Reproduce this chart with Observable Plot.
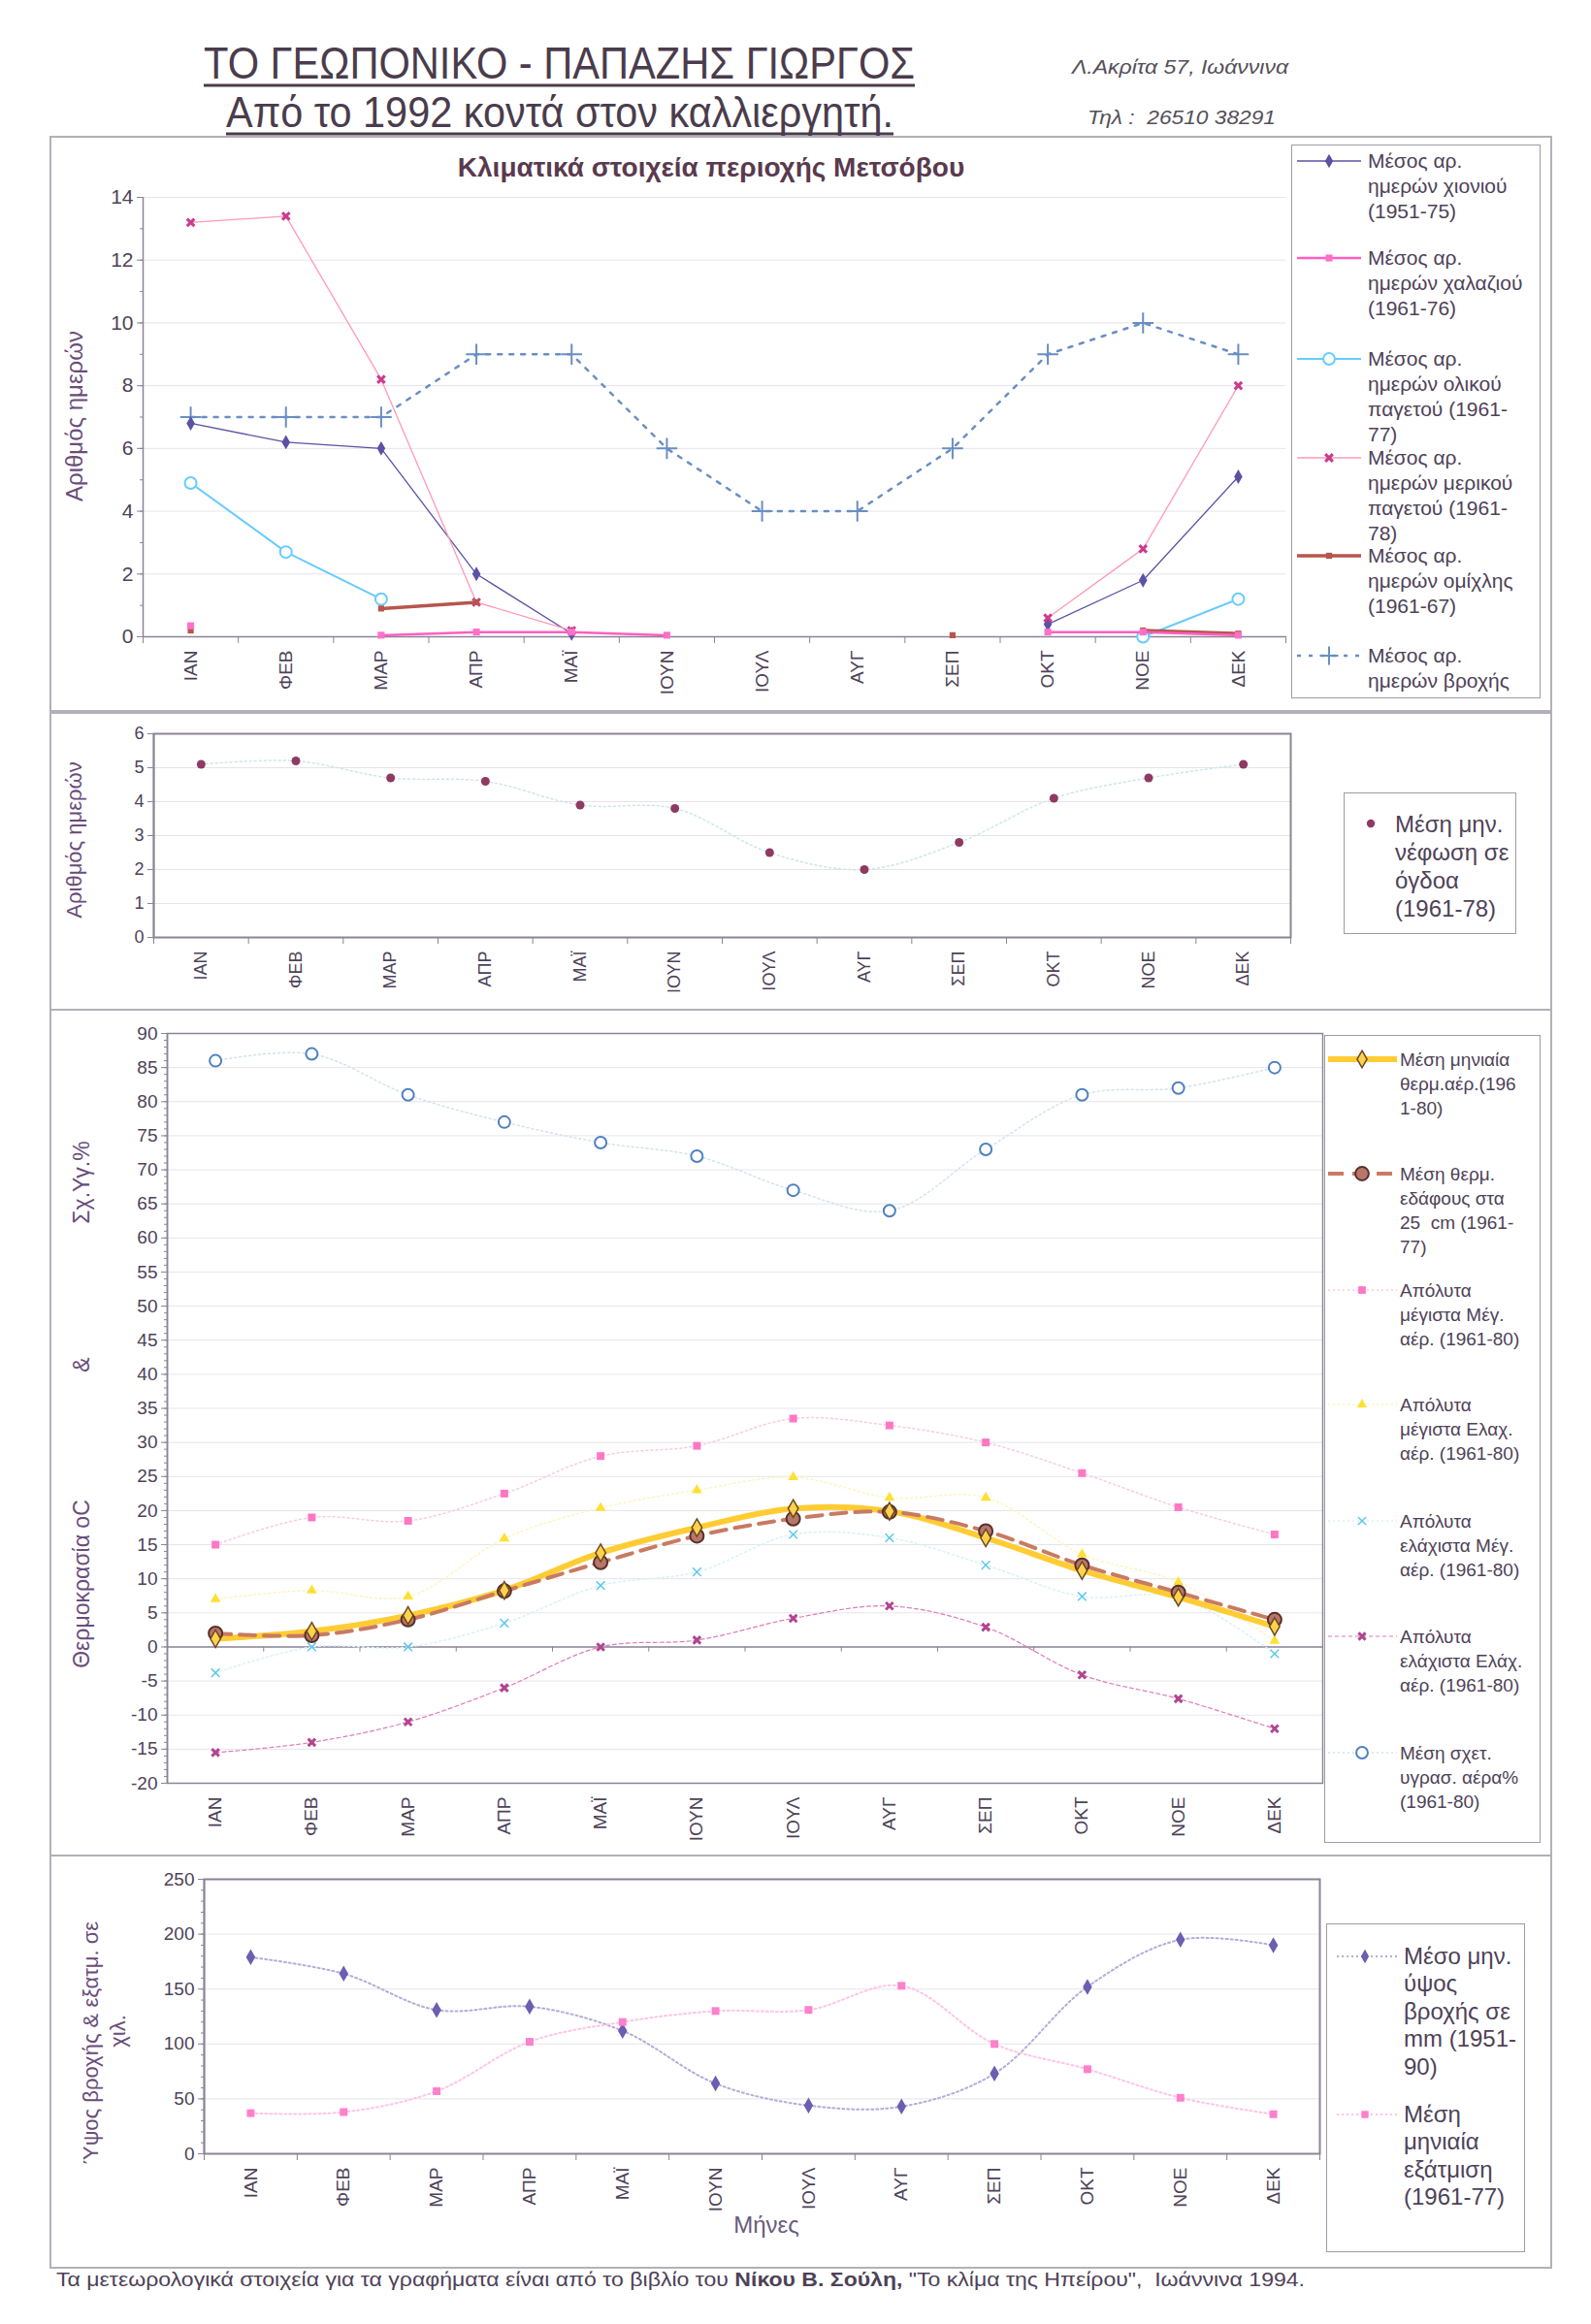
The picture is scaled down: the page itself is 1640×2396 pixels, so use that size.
<!DOCTYPE html>
<html><head><meta charset="utf-8">
<script src="https://cdn.jsdelivr.net/npm/d3@7"></script>
<script src="https://cdn.jsdelivr.net/npm/@observablehq/plot@0.6"></script>
<style>
body{margin:0;background:#fff;}
#page{position:relative;width:1640px;height:2396px;background:#fff;font-family:"Liberation Sans",Arial,sans-serif;color:#4e4258;overflow:hidden;}
.abs{position:absolute;white-space:nowrap;}
.panel{position:absolute;border:2px solid #b4b0b8;box-sizing:border-box;}
.legend{position:absolute;border:1.5px solid #a09aa6;box-sizing:border-box;background:#fff;}
.rot{position:absolute;white-space:nowrap;transform:translate(-50%,-50%) rotate(-90deg);color:#6a4d7a;}
</style></head><body><div id="page"></div>
<script>
// ---------- data ----------
const months = ["ΙΑΝ","ΦΕΒ","ΜΑΡ","ΑΠΡ","ΜΑΪ","ΙΟΥΝ","ΙΟΥΛ","ΑΥΓ","ΣΕΠ","ΟΚΤ","ΝΟΕ","ΔΕΚ"];

// Panel 1: days
const snowDays         = [6.8, 6.2, 6.0, 2.0, 0.1, null, null, null, null, 0.4, 1.8, 5.1];
const hailDays         = [0.35, null, 0.05, 0.15, 0.15, 0.05, null, null, null, 0.15, 0.15, 0.05];
const totalFrostDays   = [4.9, 2.7, 1.2, null, null, null, null, null, null, null, 0.0, 1.2];
const partialFrostDays = [13.2, 13.4, 8.2, 1.1, 0.2, null, null, null, null, 0.6, 2.8, 8.0];
const fogDays          = [0.2, null, 0.9, 1.1, null, null, null, null, 0.05, null, 0.2, 0.1];
const rainDays         = [7, 7, 7, 9, 9, 6, 4, 4, 6, 9, 10, 9];
const daysTicks = [0, 2, 4, 6, 8, 10, 12, 14];

// Panel 2: cloud cover (oktas)
const cloudCover = [5.1, 5.2, 4.7, 4.6, 3.9, 3.8, 2.5, 2.0, 2.8, 4.1, 4.7, 5.1];
const cloudTicks = [0, 1, 2, 3, 4, 5, 6];

// Panel 3: temperature & humidity
const humidity    = [86, 87, 81, 77, 74, 72, 67, 64, 73, 81, 82, 85];
const meanAirTemp = [1.2, 2.3, 4.6, 8.3, 13.8, 17.5, 20.3, 19.9, 16.0, 11.2, 7.3, 3.0];
const soilTemp25  = [2.0, 1.7, 4.0, 8.2, 12.4, 16.3, 18.8, 19.8, 17.0, 12.0, 8.0, 4.0];
const absMaxOfMax = [15, 19, 18.5, 22.5, 28, 29.5, 33.5, 32.5, 30, 25.5, 20.5, 16.5];
const absMaxOfMin = [7, 8.3, 7.4, 15.9, 20.4, 23, 24.9, 21.9, 21.9, 13.6, 9.5, 0.9];
const absMinOfMax = [-3.8, 0, 0, 3.5, 9, 11, 16.5, 16, 12, 7.4, 7.3, -1];
const absMinOfMin = [-15.5, -14, -11, -6, 0, 1, 4.2, 6, 2.9, -4.1, -7.6, -12];
const tempTicks = [-20,-15,-10,-5,0,5,10,15,20,25,30,35,40,45,50,55,60,65,70,75,80,85,90];

// Panel 4: rainfall & evaporation (mm)
const rainHeight  = [179, 164, 131, 134, 112, 64, 44, 43, 73, 152, 195, 190];
const evaporation = [37, 38, 57, 102, 120, 130, 131, 153, 100, 77, 51, 36];
const rainTicks = [0, 50, 100, 150, 200, 250];

// ---------- helpers ----------
const page = document.getElementById("page");
function el(tag, cls, css, html) {
  const e = document.createElement(tag);
  if (cls) e.className = cls;
  Object.assign(e.style, css || {});
  if (html != null) e.innerHTML = html;
  page.appendChild(e);
  return e;
}
const overlay = d3.select(page).append("svg")
  .style("position", "absolute").style("left", "0px").style("top", "0px")
  .attr("width", 1640).attr("height", 2396).style("overflow", "visible").style("z-index", 5).style("pointer-events", "none");

function svgText(x, y, len, size, html, opt = {}) {
  const t = overlay.append("text").attr("x", x).attr("y", y)
    .attr("font-family", "Liberation Sans, Arial, sans-serif").attr("font-size", size)
    .attr("fill", opt.fill || "#4a3c4c").attr("textLength", len).attr("lengthAdjust", "spacingAndGlyphs")
    .attr("font-style", opt.italic ? "italic" : null).html(html);
  if (opt.underline) {
    overlay.append("line").attr("x1", x).attr("x2", x + len).attr("y1", opt.underline).attr("y2", opt.underline)
      .attr("stroke", opt.fill || "#4a3c4c").attr("stroke-width", opt.uw || 3);
  }
  return t;
}

const AX = "#8c8496";
const idx = d3.range(12);
const bounds = d3.range(13).map(i => i - 0.5);
const X = (d, i) => i;
const Y = d => d;

function chart(o) {
  const svg = Plot.plot({
    width: o.W, height: o.H,
    marginLeft: o.pl - o.L, marginRight: o.L + o.W - o.pr,
    marginTop: o.pt - o.T, marginBottom: o.T + o.H - o.pb,
    x: {type: "linear", domain: [-0.5, 11.5], axis: null},
    y: {type: "linear", domain: o.yDomain, axis: null},
    style: {fontFamily: "Liberation Sans, Arial, sans-serif", color: "#4e4258", background: "transparent", overflow: "visible", fontSize: o.tickFont + "px"},
    marks: [
      Plot.gridY({ticks: o.yTicks, stroke: "#e6e4ea", strokeOpacity: 1}),
      ...(o.frame ? [Plot.frame({stroke: AX, strokeWidth: o.frame})] : []),
      Plot.ruleX([-0.5], {stroke: AX, strokeWidth: 1.5}),
      ...(o.zeroLine ? [Plot.ruleY([0], {stroke: AX, strokeWidth: 1.5}),
                        Plot.ruleX(bounds, {x: d => d, y1: 0, y2: o.zeroTick, stroke: AX})] : []),
      ...o.marks,
      Plot.axisY({ticks: o.yTicks, tickSize: 6, tickPadding: 4, stroke: AX, fontSize: o.tickFont, tickFormat: d => String(d)}),
      Plot.axisY({ticks: o.yMinor, tickSize: 3, tickFormat: () => "", stroke: AX}),
      ...(o.bottomTicks ? [Plot.axisX({ticks: bounds, tickSize: 7, tickFormat: () => "", stroke: AX})] : []),
      Plot.axisX({ticks: idx, tickSize: 0, tickRotate: -90, tickPadding: o.monthPad, tickFormat: i => months[i], fontSize: o.monthFont})
    ]
  });
  const wrap = el("div", "", {position: "absolute", left: o.L + "px", top: o.T + "px"});
  wrap.appendChild(svg);
  return svg;
}

function legend(box, items, opt) {
  el("div", "legend", {left: box[0] + "px", top: box[1] + "px", width: (box[2] - box[0]) + "px", height: (box[3] - box[1]) + "px"});
  for (const it of items) {
    if (it.line) {
      overlay.append("line").attr("x1", opt.x0).attr("x2", opt.x1).attr("y1", it.y).attr("y2", it.y)
        .attr("stroke", it.line).attr("stroke-width", it.lw || 1.5).attr("stroke-dasharray", it.dash || null);
    }
    if (it.sym) {
      overlay.append("path").attr("transform", `translate(${opt.xm},${it.y})`)
        .attr("d", d3.symbol(it.sym, it.size || 60)())
        .attr("fill", it.fill || "none").attr("stroke", it.stroke || "none").attr("stroke-width", it.sw || 1.5);
    }
    el("div", "abs", {left: opt.tx + "px", top: (it.y - opt.lh / 2) + "px", lineHeight: opt.lh + "px", fontSize: opt.fs + "px", color: opt.color || "#4e4258"}, it.lines.join("<br>"));
  }
}

// ---------- header ----------
svgText(210, 81, 733, 47, "ΤΟ ΓΕΩΠΟΝΙΚΟ - ΠΑΠΑΖΗΣ ΓΙΩΡΓΟΣ", {underline: 88});
svgText(233, 131, 688, 44, "Από το 1992 κοντά στον καλλιεργητή.", {underline: 138});
svgText(1105, 76, 223, 21, "Λ.Ακρίτα 57, Ιωάννινα", {italic: true, fill: "#55505a"});
svgText(1121, 128, 194, 21, "Τηλ :&#160; 26510 38291", {italic: true, fill: "#55505a"});

// ---------- panels ----------
el("div", "panel", {left: "51px", top: "140px", width: "1549px", height: "594px"});
el("div", "panel", {left: "51px", top: "734px", width: "1549px", height: "308px"});
el("div", "panel", {left: "51px", top: "1040px", width: "1549px", height: "874px"});
el("div", "panel", {left: "51px", top: "1912px", width: "1549px", height: "427px"});

// ---------- Panel 1 ----------
el("div", "abs", {left: "733px", top: "173px", transform: "translate(-50%,-50%)", fontSize: "28px", fontWeight: "bold", color: "#5a3a4e"}, "Κλιματικά στοιχεία περιοχής Μετσόβου");
el("div", "rot", {left: "77px", top: "429px", fontSize: "24px"}, "Αριθμός ημερών");
chart({
  L: 55, T: 145, W: 1280, H: 580, pl: 147, pr: 1325, pt: 203, pb: 656,
  yDomain: [0, 14], yTicks: daysTicks, yMinor: d3.range(0, 14.5, 1),
  tickFont: 21, monthFont: 19, monthPad: 14, bottomTicks: true,
  marks: [
    Plot.ruleY([0], {stroke: AX, strokeWidth: 1.5}),
    Plot.line(rainDays, {x: X, y: Y, stroke: "#6a8ec4", strokeWidth: 2.5, strokeDasharray: "4,8"}),
    Plot.dot(rainDays, {x: X, y: Y, symbol: "plus", stroke: "#6a8ec4", strokeWidth: 2, r: 7}),
    Plot.line(totalFrostDays, {x: X, y: Y, stroke: "#66ccff", strokeWidth: 2}),
    Plot.dot(totalFrostDays, {x: X, y: Y, symbol: "circle", stroke: "#66ccff", fill: "white", strokeWidth: 2, r: 6}),
    Plot.line(snowDays, {x: X, y: Y, stroke: "#5a52a4", strokeWidth: 1.3}),
    Plot.dot(snowDays, {x: X, y: Y, symbol: "diamond", fill: "#5a52a4", r: 4.5}),
    Plot.line(partialFrostDays, {x: X, y: Y, stroke: "#ff9ab4", strokeWidth: 1.3}),
    Plot.dot(partialFrostDays, {x: X, y: Y, symbol: "times", stroke: "#cc3a8c", strokeWidth: 3, r: 3.5}),
    Plot.line(fogDays, {x: X, y: Y, stroke: "#b5564c", strokeWidth: 3.5}),
    Plot.dot(fogDays, {x: X, y: Y, symbol: "square", fill: "#b5564c", r: 3.5}),
    Plot.line(hailDays, {x: X, y: Y, stroke: "#ff5fc0", strokeWidth: 2.5}),
    Plot.dot(hailDays, {x: X, y: Y, symbol: "square", fill: "#ff6fc8", r: 4})
  ]
});
legend([1331, 149, 1588, 720], [
  {y: 166, line: "#5a52a4", sym: d3.symbolDiamond, fill: "#5a52a4", size: 60, lines: ["Μέσος αρ.", "ημερών χιονιού", "(1951-75)"]},
  {y: 266, line: "#ff5fc0", lw: 2.5, sym: d3.symbolSquare, fill: "#ff6fc8", size: 50, lines: ["Μέσος αρ.", "ημερών χαλαζιού", "(1961-76)"]},
  {y: 370, line: "#66ccff", lw: 2, sym: d3.symbolCircle, fill: "white", stroke: "#66ccff", sw: 2, size: 110, lines: ["Μέσος αρ.", "ημερών ολικού", "παγετού (1961-", "77)"]},
  {y: 472, line: "#ff9ab4", sym: d3.symbolTimes, stroke: "#cc3a8c", sw: 3, size: 40, lines: ["Μέσος αρ.", "ημερών μερικού", "παγετού (1961-", "78)"]},
  {y: 573, line: "#b5564c", lw: 3.5, sym: d3.symbolSquare, fill: "#b5564c", size: 40, lines: ["Μέσος αρ.", "ημερών ομίχλης", "(1961-67)"]},
  {y: 676, line: "#6a8ec4", lw: 2.5, dash: "4,8", sym: d3.symbolPlus, stroke: "#6a8ec4", sw: 2, size: 120, lines: ["Μέσος αρ.", "ημερών βροχής"]}
], {x0: 1337, x1: 1403, xm: 1370, tx: 1410, lh: 26, fs: 21});

// ---------- Panel 2 ----------
el("div", "rot", {left: "77px", top: "866px", fontSize: "22px"}, "Αριθμός ημερών");
chart({
  L: 55, T: 740, W: 1290, H: 295, pl: 158, pr: 1330, pt: 756, pb: 966,
  yDomain: [0, 6], yTicks: cloudTicks, yMinor: cloudTicks,
  tickFont: 18, monthFont: 18, monthPad: 14, bottomTicks: true, frame: 2,
  marks: [
    Plot.line(cloudCover, {x: X, y: Y, stroke: "#cfe6e6", strokeWidth: 1.5, strokeDasharray: "2,3", curve: "catmull-rom"}),
    Plot.dot(cloudCover, {x: X, y: Y, symbol: "circle", fill: "#8e3a62", r: 4.5})
  ]
});
legend([1385, 817, 1563, 963], [
  {y: 849, sym: d3.symbolCircle, fill: "#8e3a62", size: 55, lines: ["Μέση μην.", "νέφωση σε", "όγδοα", "(1961-78)"]}
], {x0: 1400, x1: 1400, xm: 1413, tx: 1438, lh: 29, fs: 24});

// ---------- Panel 3 ----------
el("div", "rot", {left: "84px", top: "1219px", fontSize: "23px"}, "Σχ.Υγ.%");
el("div", "rot", {left: "84px", top: "1407px", fontSize: "23px"}, "&amp;");
el("div", "rot", {left: "84px", top: "1633px", fontSize: "23px"}, "Θερμοκρασία οC");
chart({
  L: 55, T: 1048, W: 1320, H: 860, pl: 172, pr: 1363, pt: 1065, pb: 1838,
  yDomain: [-20, 90], yTicks: tempTicks, yMinor: d3.range(-20, 90.5, 1),
  tickFont: 19, monthFont: 19, monthPad: 14, bottomTicks: false, frame: 1.5,
  zeroLine: true, zeroTick: -0.75,
  marks: [
    Plot.line(humidity, {x: X, y: Y, stroke: "#d4e2ef", strokeWidth: 1.5, strokeDasharray: "2,3", curve: "catmull-rom"}),
    Plot.dot(humidity, {x: X, y: Y, symbol: "circle", stroke: "#4f81bd", fill: "white", strokeWidth: 2, r: 6}),
    Plot.line(absMaxOfMax, {x: X, y: Y, stroke: "#f8cce2", strokeWidth: 1.5, strokeDasharray: "2,3", curve: "catmull-rom"}),
    Plot.dot(absMaxOfMax, {x: X, y: Y, symbol: "square", fill: "#ff77c4", r: 4.5}),
    Plot.line(absMaxOfMin, {x: X, y: Y, stroke: "#fff4c0", strokeWidth: 1.5, strokeDasharray: "2,3", curve: "catmull-rom"}),
    Plot.dot(absMaxOfMin, {x: X, y: Y, symbol: "triangle", fill: "#ffe033", r: 4}),
    Plot.line(absMinOfMax, {x: X, y: Y, stroke: "#daf1f9", strokeWidth: 1.5, strokeDasharray: "2,3", curve: "catmull-rom"}),
    Plot.dot(absMinOfMax, {x: X, y: Y, symbol: "times", stroke: "#5cc8ec", strokeWidth: 1.5, r: 4}),
    Plot.line(absMinOfMin, {x: X, y: Y, stroke: "#e07ab8", strokeWidth: 1.2, strokeDasharray: "4,3", curve: "catmull-rom"}),
    Plot.dot(absMinOfMin, {x: X, y: Y, symbol: "times", stroke: "#b04590", strokeWidth: 3, r: 3.5}),
    Plot.line(meanAirTemp, {x: X, y: Y, stroke: "#ffcc33", strokeWidth: 6, curve: "catmull-rom"}),
    Plot.line(soilTemp25, {x: X, y: Y, stroke: "#c87a62", strokeWidth: 4, strokeDasharray: "16,9", curve: "catmull-rom"}),
    Plot.dot(soilTemp25, {x: X, y: Y, symbol: "circle", fill: "#b8766a", stroke: "#5a3028", strokeWidth: 2, r: 7}),
    Plot.dot(meanAirTemp, {x: X, y: Y, symbol: "diamond", fill: "#ffd24d", stroke: "#6b4a20", strokeWidth: 1.5, r: 5.5})
  ]
});
legend([1365, 1067, 1588, 1900], [
  {y: 1092, line: "#ffcc33", lw: 6, sym: d3.symbolDiamond, fill: "#ffd24d", stroke: "#6b4a20", sw: 1.5, size: 90, lines: ["Μέση μηνιαία", "θερμ.αέρ.(196", "1-80)"]},
  {y: 1210, line: "#c87a62", lw: 4, dash: "16,9", sym: d3.symbolCircle, fill: "#b8766a", stroke: "#5a3028", sw: 2, size: 150, lines: ["Μέση θερμ.", "εδάφους στα", "25&nbsp; cm (1961-", "77)"]},
  {y: 1330, line: "#f8cce2", dash: "2,3", sym: d3.symbolSquare, fill: "#ff77c4", size: 60, lines: ["Απόλυτα", "μέγιστα Μέγ.", "αέρ. (1961-80)"]},
  {y: 1448, line: "#fff4c0", dash: "2,3", sym: d3.symbolTriangle, fill: "#ffe033", size: 45, lines: ["Απόλυτα", "μέγιστα Ελαχ.", "αέρ. (1961-80)"]},
  {y: 1568, line: "#daf1f9", dash: "2,3", sym: d3.symbolTimes, stroke: "#5cc8ec", sw: 1.5, size: 45, lines: ["Απόλυτα", "ελάχιστα Μέγ.", "αέρ. (1961-80)"]},
  {y: 1687, line: "#e07ab8", dash: "4,3", lw: 1.2, sym: d3.symbolTimes, stroke: "#b04590", sw: 3, size: 35, lines: ["Απόλυτα", "ελάχιστα Ελάχ.", "αέρ. (1961-80)"]},
  {y: 1807, line: "#d4e2ef", dash: "2,3", sym: d3.symbolCircle, fill: "white", stroke: "#4f81bd", sw: 2, size: 110, lines: ["Μέση σχετ.", "υγρασ. αέρα%", "(1961-80)"]}
], {x0: 1369, x1: 1440, xm: 1404, tx: 1443, lh: 25, fs: 19});

// ---------- Panel 4 ----------
el("div", "rot", {left: "94px", top: "2106px", fontSize: "22px"}, "Ύψος βροχής &amp; εξατμ. σε");
el("div", "rot", {left: "122px", top: "2094px", fontSize: "22px"}, "χιλ.");
chart({
  L: 55, T: 1920, W: 1320, H: 400, pl: 210, pr: 1360, pt: 1937, pb: 2220,
  yDomain: [0, 250], yTicks: rainTicks, yMinor: d3.range(0, 251, 10),
  tickFont: 19, monthFont: 19, monthPad: 14, bottomTicks: true, frame: 2,
  marks: [
    Plot.line(rainHeight, {x: X, y: Y, stroke: "#b4acd8", strokeWidth: 2, strokeDasharray: "2,3", curve: "catmull-rom"}),
    Plot.line(evaporation, {x: X, y: Y, stroke: "#ffc4e6", strokeWidth: 2, strokeDasharray: "2,3", curve: "catmull-rom"}),
    Plot.dot(rainHeight, {x: X, y: Y, symbol: "diamond", fill: "#6a5fb0", r: 5}),
    Plot.dot(evaporation, {x: X, y: Y, symbol: "square", fill: "#ff80cc", r: 4.5})
  ]
});
el("div", "abs", {left: "790px", top: "2294px", transform: "translate(-50%,-50%)", fontSize: "24px", color: "#6a5a7a"}, "Μήνες");
legend([1367, 1983, 1572, 2322], [
  {y: 2017, line: "#b4acd8", lw: 2, dash: "2,3", sym: d3.symbolDiamond, fill: "#6a5fb0", size: 60, lines: ["Μέσο μην.", "ύψος", "βροχής σε", "mm (1951-", "90)"]},
  {y: 2180, line: "#ffc4e6", lw: 2, dash: "2,3", sym: d3.symbolSquare, fill: "#ff80cc", size: 55, lines: ["Μέση", "μηνιαία", "εξάτμιση", "(1961-77)"]}
], {x0: 1378, x1: 1440, xm: 1407, tx: 1447, lh: 28.5, fs: 24});

// ---------- caption ----------
svgText(58, 2357, 1287, 21, 'Τα μετεωρολογικά στοιχεία για τα γραφήματα είναι από το βιβλίο του <tspan font-weight="bold">Νίκου Β. Σούλη,</tspan> "Το κλίμα της Ηπείρου",&#160; Ιωάννινα 1994.', {fill: "#4e4258"});
</script></body></html>
